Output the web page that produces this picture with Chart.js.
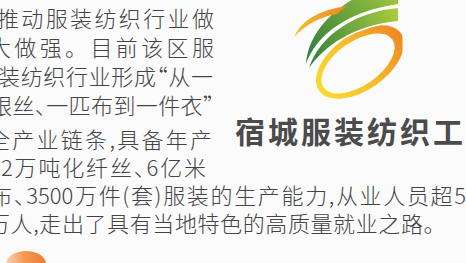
<!DOCTYPE html>
<html lang="zh-CN">
<head>
<meta charset="utf-8">
<script src="https://cdn.jsdelivr.net/npm/chart.js@4.4.1/dist/chart.umd.min.js"></script>
<style>
html, body { margin: 0; padding: 0; }
body {
    width: 466px; height: 263px; overflow: hidden; position: relative;
    background: #fbfbfb;
    font-family: "Noto Sans CJK SC", "Noto Sans", sans-serif;
    color: #444444;
}
.line {
    position: absolute;
    font-size: 22px; line-height: 22px; font-weight: 300;
    font-feature-settings: "halt";
    text-align: justify; text-align-last: justify;
}
.line.full { font-feature-settings: normal; }
.line.last { text-align: left; text-align-last: left; letter-spacing: 0.6px; }
#title {
    position: absolute; left: 235px; width: 228px; top: 115px;
    font-size: 30px; line-height: 30px; font-weight: bold; color: #4b4b4b;
    text-align: justify; text-align-last: justify;
}
#logo { position: absolute; left: 232px; top: 0; width: 234px; height: 112px; }
#blob {
    position: absolute; left: 6px; top: 251px; width: 40px; height: 26px;
    border-radius: 50%;
    background: linear-gradient(90deg, #f8d2b4 0%, #f29a55 45%, #ee7a2a 100%);
}
</style>
</head>
<body>
<div id="text"></div>
<div id="title"></div>
<div id="logo"><canvas id="logo-chart"></canvas></div>
<div id="blob"></div>
<script>
// Article text, one entry per printed line
const articleLines = [
    '推动服装纺织行业做',
    '大做强。目前该区服',
    '装纺织行业形成“从一',
    '银丝、一匹布到一件衣”',
    '全产业链条,具备年产',
    '2万吨化纤丝、6亿米',
    '布、3500万件(套)服装的生产能力,从业人员超5',
    '万人,走出了具有当地特色的高质量就业之路。'
];
const titleText = '宿城服装纺织工';

// Logo colours
const ringColors = ['#f8dc2e', '#f5c12d', '#ee8322'];
const bandColors = [['#2e7a3b', '#9cc53c'], ['#2f7d3c', '#a9cb3f']];
const crescentColors = ['#f5c22b', '#ee8a22'];

// Layout of each printed line: left, right, top (last line is not justified)
const lineBoxes = [
    [-3, 214, 6], [-11, 214, 35], [-2, 213, 64], [-10, 214, 93],
    [-12, 212, 127], [1, 206, 155], [-10, 466, 183], [-12, null, 211]
];
// lines whose punctuation keeps its full width
const fullPunctLines = [1];

const textBox = document.getElementById('text');
articleLines.forEach((txt, i) => {
    const [left, right, top] = lineBoxes[i];
    const div = document.createElement('div');
    div.className = right === null ? 'line last' : 'line';
    if (fullPunctLines.includes(i)) div.classList.add('full');
    div.style.left = left + 'px';
    div.style.top = top + 'px';
    div.style.width = right === null ? '480px' : (right - left) + 'px';
    div.textContent = txt;
    textBox.appendChild(div);
});
document.getElementById('title').textContent = titleText;

// Draws the emblem (ring, two green swooshes, small crescent) in page coordinates
const LOGO_LEFT = 232;
const logoPlugin = {
    id: 'logo',
    afterDraw(chart) {
        const ctx = chart.ctx;
        const rot = -35 * Math.PI / 180;
        ctx.save();
        ctx.translate(-LOGO_LEFT, 0);

        // ring
        ctx.save();
        ctx.beginPath();
        ctx.rect(300, 0, 102.5, 110);
        ctx.clip();
        let g = ctx.createLinearGradient(318, 95, 404, 30);
        g.addColorStop(0, ringColors[0]);
        g.addColorStop(0.45, ringColors[1]);
        g.addColorStop(1, ringColors[2]);
        ctx.fillStyle = g;
        ctx.beginPath();
        ctx.ellipse(360, 62, 50, 28, rot, 0, Math.PI * 2);
        ctx.ellipse(358, 63.5, 42, 22, rot, 0, Math.PI * 2, true);
        ctx.fill('evenodd');
        ctx.restore();

        ctx.lineJoin = 'round';
        ctx.strokeStyle = '#ffffff';
        ctx.lineWidth = 3;

        // upper green band
        g = ctx.createLinearGradient(306, 64, 398, 0);
        g.addColorStop(0, bandColors[0][0]);
        g.addColorStop(1, bandColors[0][1]);
        ctx.beginPath();
        ctx.moveTo(355, -2);
        ctx.bezierCurveTo(330, 12, 308, 35, 306, 64);
        ctx.bezierCurveTo(316, 36, 345, 12, 398, 4);
        ctx.lineTo(398, -2);
        ctx.closePath();
        ctx.stroke();
        ctx.fillStyle = g;
        ctx.fill();

        // lower green band
        g = ctx.createLinearGradient(310, 68, 398, 14);
        g.addColorStop(0, bandColors[1][0]);
        g.addColorStop(1, bandColors[1][1]);
        ctx.beginPath();
        ctx.moveTo(398, 8);
        ctx.bezierCurveTo(355, 12, 320, 35, 309, 68);
        ctx.bezierCurveTo(325, 45, 355, 25, 398, 21);
        ctx.closePath();
        ctx.stroke();
        ctx.fillStyle = g;
        ctx.fill();

        // small crescent
        g = ctx.createLinearGradient(294, 37, 346, 6);
        g.addColorStop(0, crescentColors[0]);
        g.addColorStop(1, crescentColors[1]);
        ctx.fillStyle = g;
        ctx.beginPath();
        ctx.moveTo(294, 37);
        ctx.quadraticCurveTo(305, 12, 347, 6);
        ctx.lineTo(337, 14);
        ctx.quadraticCurveTo(312, 18, 294, 37);
        ctx.closePath();
        ctx.fill();

        ctx.restore();
    }
};

new Chart(document.getElementById('logo-chart'), {
    type: 'scatter',
    data: { datasets: [] },
    options: {
        animation: false,
        responsive: true,
        maintainAspectRatio: false,
        layout: { padding: 0 },
        scales: {
            x: { display: false },
            y: { display: false }
        },
        plugins: {
            legend: { display: false },
            tooltip: { enabled: false }
        }
    },
    plugins: [logoPlugin]
});
</script>
</body>
</html>
